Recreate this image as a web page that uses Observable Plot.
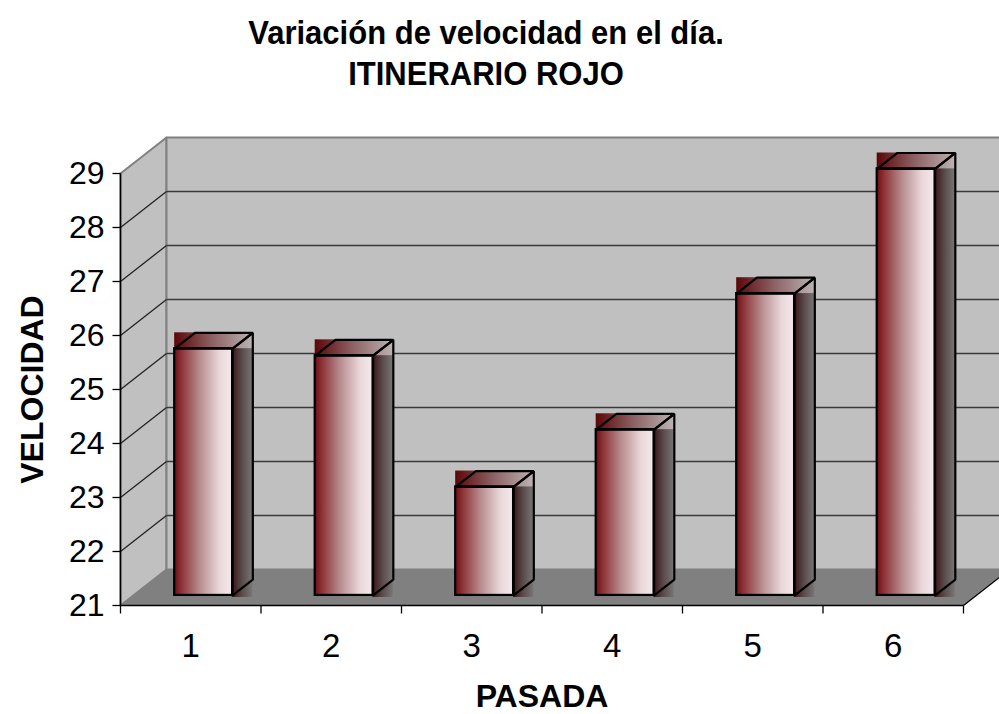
<!DOCTYPE html>
<html><head><meta charset="utf-8">
<script src="https://cdn.jsdelivr.net/npm/d3@7"></script>
<script src="https://cdn.jsdelivr.net/npm/@observablehq/plot@0.6"></script>
<style>
html,body{margin:0;padding:0;background:#fff;overflow:hidden;}
#wrap{position:relative;width:999px;height:714px;}
.t{position:absolute;left:0;width:972px;text-align:center;font:bold 31px "Liberation Sans",Arial,sans-serif;line-height:31px;transform:scaleY(1.1);color:#000;white-space:nowrap;}
#chart{position:absolute;left:0;top:100px;}
</style></head>
<body><div id="wrap">
<div class="t" style="top:17px">Variación de velocidad en el día.</div>
<div class="t" style="top:58px">ITINERARIO ROJO</div>
<div id="chart"></div></div>
<script>
// ---- data ----
const pasada = [1, 2, 3, 4, 5, 6];
const velocidad = [25.57, 25.44, 23.01, 24.07, 26.59, 28.9];
const yTicks = [21, 22, 23, 24, 25, 26, 27, 28, 29];
const xTickLabels = ["1", "2", "3", "4", "5", "6"];
const yTitle = "VELOCIDAD";
const xTitle = "PASADA";

// ---- layout ----
const W = 999, H = 614, ML = 120, MR = 36, MT = 73, MB = 109;
const X0 = 0.5, X1 = 6.5, Y0 = 21, Y1 = 29;
const kx = (W - ML - MR) / (X1 - X0), ky = (H - MT - MB) / (Y1 - Y0);
const dX = 46 / kx, dY = 36 / ky;           // oblique depth of the box, in data units
const P = (x, v, f) => ({x: x + f * dX, y: v + f * dY});
const HW = 0.206, F0 = 0.28, F1 = 0.72;     // bar half-width and depth slice

const bars = pasada.map((p, i) => ({p, v: velocidad[i], label: xTickLabels[i]}));
const bounds = pasada.map(p => p - 0.5).concat([pasada[pasada.length - 1] + 0.5]);
const inner = yTicks.slice(1, -1);

// polygons
const poly = (id, pts) => pts.concat([pts[0]]).map(q => ({...q, id}));
const leftWall = poly("L", [P(X0, Y0, 0), P(X0, Y1, 0), P(X0, Y1, 1), P(X0, Y0, 1)]);
const backWall = poly("B", [P(X0, Y0, 1), P(X0, Y1, 1), P(X1, Y1, 1), P(X1, Y0, 1)]);
const floor = poly("F", [P(X0, Y0, 0), P(X1, Y0, 0), P(X1, Y0, 1), P(X0, Y0, 1)]);
const topFaces = bars.flatMap(d => poly("t" + d.p, [P(d.p - HW, d.v, F0), P(d.p + HW, d.v, F0), P(d.p + HW, d.v, F1), P(d.p - HW, d.v, F1)]));
const sideFaces = bars.flatMap(d => poly("s" + d.p, [P(d.p + HW, Y0, F0), P(d.p + HW, d.v, F0), P(d.p + HW, d.v, F1), P(d.p + HW, Y0, F1)]));

const defs = () => {
  const g = document.createElementNS("http://www.w3.org/2000/svg", "defs");
  g.innerHTML = `
  <linearGradient id="gFront" x1="0" x2="1" y1="0" y2="0">
    <stop offset="0" stop-color="#6e0c10"/><stop offset="0.12" stop-color="#8c3236"/>
    <stop offset="0.45" stop-color="#b98f91"/><stop offset="0.78" stop-color="#e9d7d9"/>
    <stop offset="1" stop-color="#f5eaec"/></linearGradient>
  <linearGradient id="gSide" x1="0" x2="1" y1="0" y2="0">
    <stop offset="0" stop-color="#3a1416"/><stop offset="0.5" stop-color="#5a4c4c"/><stop offset="1" stop-color="#787676"/></linearGradient>
  <linearGradient id="gTop" x1="0" x2="1" y1="0" y2="0">
    <stop offset="0" stop-color="#5c0608"/><stop offset="0.5" stop-color="#8e6466"/>
    <stop offset="1" stop-color="#bcb2b2"/></linearGradient>`;
  return g;
};

const chart = Plot.plot({
  width: W, height: H,
  marginLeft: ML, marginRight: MR, marginTop: MT, marginBottom: MB,
  x: {domain: [X0, X1], axis: null},
  y: {domain: [Y0, Y1], axis: null},
  style: {fontFamily: "'Liberation Sans', Arial, sans-serif", background: "transparent", color: "#000"},
  marks: [
    defs,
    Plot.line(leftWall, {x: "x", y: "y", z: "id", fill: "#c0c0c0", stroke: "#808080", strokeWidth: 2}),
    Plot.line(backWall, {x: "x", y: "y", z: "id", fill: "#c0c0c0", stroke: "#808080", strokeWidth: 2}),
    Plot.line(floor, {x: "x", y: "y", z: "id", fill: "#808080", stroke: "none"}),
    // gridlines on walls
    Plot.link(inner, {x1: () => P(X0, 0, 0).x, y1: d => P(X0, d, 0).y, x2: () => P(X0, 0, 1).x, y2: d => P(X0, d, 1).y, stroke: "#222", strokeWidth: 1.3}),
    Plot.link(inner, {x1: () => P(X0, 0, 1).x, y1: d => P(X0, d, 1).y, x2: () => P(X1, 0, 1).x, y2: d => P(X1, d, 1).y, stroke: "#3a3a3a", strokeWidth: 1.6}),
    Plot.link([0], {x1: () => P(X1, Y0, 0).x, y1: () => P(X1, Y0, 0).y, x2: () => P(X1, Y0, 1).x, y2: () => P(X1, Y0, 1).y, stroke: "#000", strokeWidth: 1.3}),
    // bars
    Plot.rect(bars, {x1: d => P(d.p - HW, 0, F0).x, x2: d => P(d.p + HW, 0, F1).x, y1: d => P(0, d.v, F0).y, y2: d => P(0, d.v, F1).y, fill: "url(#gTop)"}),
    Plot.rect(bars, {x1: d => P(d.p + HW, 0, F0).x, x2: d => P(d.p + HW, 0, F1).x, y1: d => P(0, Y0, F0).y - 2 / ky, y2: d => P(0, d.v, F0).y, fill: "url(#gSide)"}),
    Plot.rect(bars, {x1: d => P(d.p - HW, 0, F0).x, x2: d => P(d.p + HW, 0, F0).x, y1: d => P(0, Y0, F0).y, y2: d => P(0, d.v, F0).y, fill: "url(#gFront)", stroke: "#000", strokeWidth: 2.2}),
    Plot.line(sideFaces, {x: "x", y: "y", z: "id", stroke: "#000", strokeWidth: 2.2, strokeLinejoin: "miter"}),
    Plot.line(topFaces, {x: "x", y: "y", z: "id", stroke: "#000", strokeWidth: 2.2, strokeLinejoin: "miter"}),
    // axes
    Plot.link([0], {x1: () => X0, x2: () => X0, y1: () => Y0, y2: () => Y1, stroke: "#000", strokeWidth: 1.5}),
    Plot.link([0], {x1: () => X0, x2: () => X1, y1: () => Y0, y2: () => Y0, stroke: "#000", strokeWidth: 1.5}),
    Plot.link(yTicks, {x1: () => X0 - 8 / kx, x2: () => X0, y1: d => d, y2: d => d, stroke: "#000", strokeWidth: 1.3}),
    Plot.link(bounds, {x1: d => d, x2: d => d, y1: () => Y0, y2: () => Y0 - 8 / ky, stroke: "#000", strokeWidth: 1.3}),
    Plot.text(yTicks, {x: () => X0, y: d => d, text: d => String(d), textAnchor: "end", dx: -16, fontSize: 32}),
    Plot.text(bars, {x: "p", y: () => Y0, text: "label", dy: 41, fontSize: 33}),
    Plot.text([yTitle], {x: () => X0, y: () => (Y0 + Y1) / 2, text: d => d, dx: -88, rotate: -90, fontSize: 32, fontWeight: "bold"}),
    Plot.text([xTitle], {x: () => (X0 + X1) / 2, y: () => Y0, text: d => d, dy: 91, fontSize: 32, fontWeight: "bold"})
  ]
});
document.getElementById("chart").appendChild(chart);
</script>
</body></html>
